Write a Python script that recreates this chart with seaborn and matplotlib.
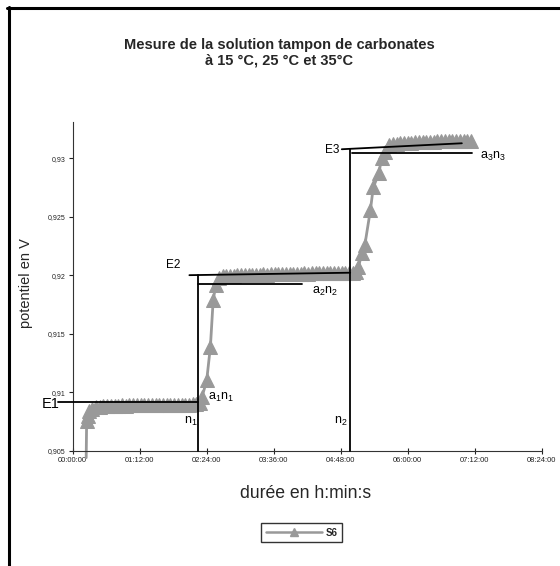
import matplotlib
matplotlib.use('Agg')
import matplotlib.pyplot as plt
from matplotlib.lines import Line2D
import seaborn as sns
import pandas as pd

# ---------------- data ----------------
series_name = "S6"
# time of each reading in minutes
t_min = [14.5, 15, 16.5, 18,
         21, 25, 29, 33, 37, 41, 45, 49, 53, 57, 61, 65, 69, 73, 77, 81, 85, 89, 93, 97,
         101, 105, 109, 113, 117, 121, 125, 129, 133,
         137, 139, 144, 148, 151, 154,
         157, 161, 165, 169, 173, 177, 181, 185, 189, 193, 197, 201, 205, 209, 213, 217,
         221, 225, 229, 233, 237, 241, 245, 249, 253, 257, 261, 265, 269, 273, 277, 281,
         285, 289, 293, 297, 301,
         304, 307, 311, 314, 320, 323, 329, 332, 336,
         340, 344, 348, 352, 356, 360, 364, 368, 372, 376, 380, 384, 388, 392, 396, 400,
         404, 408, 412, 416, 420, 424, 428]
potential = [0.9044, 0.9075, 0.9080, 0.9084,
             0.9086, 0.9087, 0.9087, 0.9088, 0.9088, 0.9088, 0.9088, 0.9088, 0.9089, 0.9088,
             0.9089, 0.9089, 0.9089, 0.9089, 0.9089, 0.9089, 0.9089, 0.9089, 0.9089, 0.9089,
             0.9089, 0.9089, 0.9089, 0.9089, 0.9089, 0.9089, 0.9089, 0.9090, 0.9090,
             0.9091, 0.9096, 0.9110, 0.9139, 0.9179, 0.9192,
             0.9198, 0.9199, 0.9199, 0.9199, 0.9199, 0.9200, 0.9200, 0.9200, 0.9200, 0.9200,
             0.9200, 0.9200, 0.9201, 0.9200, 0.9201, 0.9201, 0.9201, 0.9201, 0.9201, 0.9201,
             0.9201, 0.9201, 0.9201, 0.9202, 0.9201, 0.9202, 0.9202, 0.9202, 0.9202, 0.9202,
             0.9202, 0.9202, 0.9202, 0.9202, 0.9202, 0.9202, 0.9202,
             0.9203, 0.9207, 0.9219, 0.9226, 0.9256, 0.9275, 0.9287, 0.9300, 0.9305,
             0.9311, 0.9312, 0.9312, 0.9313, 0.9313, 0.9313, 0.9313, 0.9314, 0.9314, 0.9314,
             0.9314, 0.9314, 0.9314, 0.9315, 0.9315, 0.9315, 0.9315, 0.9315, 0.9315, 0.9315,
             0.9315, 0.9315, 0.9315]

x_ticks_h = [0, 1.2, 2.4, 3.6, 4.8, 6.0, 7.2, 8.4]
x_tick_labels = ["00:00:00", "01:12:00", "02:24:00", "03:36:00", "04:48:00",
                 "06:00:00", "07:12:00", "08:24:00"]
y_ticks = [0.905, 0.91, 0.915, 0.92, 0.925, 0.93]
y_tick_labels = ["0,905", "0,91", "0,915", "0,92", "0,925", "0,93"]

# construction lines (hours, volts)
seg_t0 = [-0.26, 2.25, 2.09, 2.25, 4.97, 4.82, 5.00]
seg_t1 = [2.25, 2.25, 4.97, 4.10, 4.97, 6.97, 7.15]
seg_v0 = [0.90913, 0.905, 0.92000, 0.91925, 0.905, 0.93076, 0.93042]
seg_v1 = [0.90913, 0.92000, 0.92021, 0.91925, 0.93076, 0.93127, 0.93042]

lab_text = ["E1", "E2", "E3", r"a$_1$n$_1$", r"n$_1$", r"n$_2$", r"a$_2$n$_2$", r"a$_3$n$_3$"]
lab_t = [-0.228, 1.935, 4.77, 2.425, 2.23, 4.93, 4.283, 7.30]
lab_v = [0.9090, 0.92087, 0.93070, 0.90959, 0.90754, 0.90754, 0.91859, 0.93013]
lab_ha = ["right", "right", "right", "left", "right", "right", "left", "left"]
lab_size = [10.5, 8.5, 8.5, 9, 9, 9, 9, 9]

# ---------------- style ----------------
sns.set_theme(style="white")
plt.rcParams['font.family'] = ['Liberation Sans', 'DejaVu Sans']
plt.rcParams['mathtext.fontset'] = 'custom'
plt.rcParams['mathtext.rm'] = 'Liberation Sans'
plt.rcParams['mathtext.it'] = 'Liberation Sans'

gray = '#999999'
df = pd.DataFrame({"t": [m / 60 for m in t_min], "v": potential})

fig = plt.figure(figsize=(5.6, 5.66), dpi=100)
ax = fig.add_axes([0.1298, 0.2037, 0.8375, 0.5808])

sns.lineplot(data=df, x="t", y="v", ax=ax, sort=False, estimator=None,
             color=gray, lw=2.0, marker='^', ms=9.5, mec=gray, mfc=gray,
             markevery=slice(1, None), clip_on=False, zorder=2)

for a, b, c, d in zip(seg_t0, seg_t1, seg_v0, seg_v1):
    ax.plot([a, b], [c, d], color='black', lw=1.3, clip_on=False, zorder=3)

for txt, tt, vv, ha, fs in zip(lab_text, lab_t, lab_v, lab_ha, lab_size):
    ax.text(tt, vv, txt, ha=ha, va='center', fontsize=fs, color='black', clip_on=False)

ax.set_xlim(0, 8.4)
ax.set_ylim(0.905, 0.93309)
ax.set_xticks(x_ticks_h)
ax.set_xticklabels(x_tick_labels, fontsize=5.5)
ax.set_yticks(y_ticks)
ax.set_yticklabels(y_tick_labels, fontsize=5)
ax.set_xlabel("")
ax.set_ylabel("")
ax.tick_params(axis='x', direction='inout', length=5, width=0.8, pad=2, colors='#222222', bottom=True)
ax.tick_params(axis='y', direction='out', length=3, width=0.8, pad=2, colors='#222222', left=True)
for s in ['top', 'right']:
    ax.spines[s].set_visible(False)
for s in ['left', 'bottom']:
    ax.spines[s].set_color('#333333')
    ax.spines[s].set_linewidth(0.8)

fig.text(0.498, 1 - 44.5 / 566, "Mesure de la solution tampon de carbonates",
         ha='center', va='center', fontsize=10.5, weight='bold')
fig.text(0.498, 1 - 60.5 / 566, "à 15 °C, 25 °C et 35°C",
         ha='center', va='center', fontsize=10.5, weight='bold')
fig.text(306 / 560, 1 - 497.5 / 566, "durée en h:min:s", ha='center', va='baseline', fontsize=12.7)
fig.text(26 / 560, 1 - 283 / 566, "potentiel en V", ha='center', va='center',
         rotation=90, fontsize=10.5)

# outer frame (top and left)
fig.add_artist(Line2D([7 / 560, 1], [1 - 7.5 / 566, 1 - 7.5 / 566], transform=fig.transFigure,
                      color='black', lw=2.2))
fig.add_artist(Line2D([8.5 / 560, 8.5 / 560], [0, 1 - 6.5 / 566], transform=fig.transFigure,
                      color='black', lw=2.2))

handle = Line2D([], [], color=gray, lw=1.8, marker='^', ms=6, mec=gray, mfc=gray)
leg = fig.legend(handles=[handle], labels=[series_name], loc='center',
                 bbox_to_anchor=(0.539, 0.0587), frameon=True, fancybox=False,
                 edgecolor='black', prop={'weight': 'bold', 'size': 7},
                 handlelength=5.8, borderpad=0.45, handletextpad=0.4)
leg.get_frame().set_linewidth(1.0)

fig.savefig("out.png", dpi=100, facecolor='white')
